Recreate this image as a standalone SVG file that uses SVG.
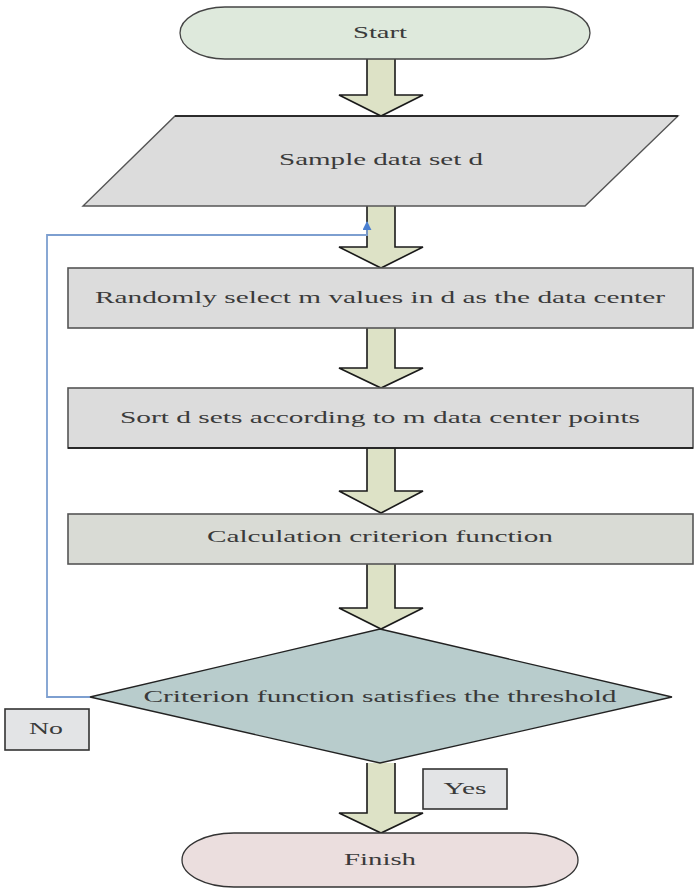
<svg xmlns="http://www.w3.org/2000/svg" width="695" height="890" viewBox="0 0 695 890">
<style>
text{font-family:"Liberation Serif","Times New Roman",serif;font-size:16px;fill:#3a3a3a;text-anchor:middle}
.arr{fill:#dde2c6;stroke:#1a1a1a;stroke-width:1.6;stroke-linejoin:miter}
.box{fill:#dcdcdc;stroke:#555;stroke-width:1.6}
.lbl{fill:#e3e4e6;stroke:#333;stroke-width:1.6}
</style>
<defs>
<marker id="bh" viewBox="0 0 10 10" refX="9" refY="5" markerWidth="9" markerHeight="9" markerUnits="userSpaceOnUse" orient="auto">
<path d="M0,0 L10,5 L0,10 z" fill="#4a7fd0"/>
</marker>
</defs>
<g id="connectors">
<path class="arr" d="M367,59 V95 H339 L381,116 L423,95 H395 V59"/>
<path class="arr" d="M367,206 V247 H339 L381,268 L423,247 H395 V206"/>
<path class="arr" d="M367,328 V368 H339 L381,388 L423,368 H395 V328"/>
<path class="arr" d="M367,448 V491 H339 L381,513 L423,491 H395 V448"/>
<path class="arr" d="M367,564 V608 H339 L381,629 L423,608 H395 V564"/>
<path class="arr" d="M367,763 V813 H339 L381,833 L423,813 H395 V763"/>
<path d="M90,697 H47 V235 H367 V222" fill="none" stroke="#7d9fd0" stroke-width="1.8" marker-end="url(#bh)"/>
</g>
<g id="start">
<rect x="180" y="7" width="410" height="52" rx="45" ry="26" fill="#dee9dc" stroke="#444" stroke-width="1.3"/>
<text x="380" y="38" textLength="54" lengthAdjust="spacingAndGlyphs">Start</text>
</g>
<g id="sample">
<polygon points="175,116 678,116 585,206 83,206" fill="#dcdcdc" stroke="#555" stroke-width="1.4"/>
<line x1="175" y1="116" x2="678" y2="116" stroke="#111" stroke-width="1.6"/>
<text x="381" y="165" textLength="204" lengthAdjust="spacingAndGlyphs">Sample data set d</text>
</g>
<g id="select">
<rect class="box" x="68" y="268" width="625" height="60"/>
<text x="380" y="303" textLength="570" lengthAdjust="spacingAndGlyphs">Randomly select m values in d as the data center</text>
</g>
<g id="sort">
<rect class="box" x="68" y="388" width="625" height="60"/>
<line x1="68" y1="448" x2="693" y2="448" stroke="#111" stroke-width="1.6"/>
<text x="380" y="423" textLength="520" lengthAdjust="spacingAndGlyphs">Sort d sets according to m data center points</text>
</g>
<g id="calc">
<rect class="box" x="68" y="514" width="625" height="50" style="fill:#d9dbd5"/>
<text x="380" y="542" textLength="346" lengthAdjust="spacingAndGlyphs">Calculation criterion function</text>
</g>
<g id="decision">
<polygon points="380,629 672,697 380,763 90,697" fill="#b8cccc" stroke="#222" stroke-width="1.3"/>
<text x="380" y="702" textLength="473" lengthAdjust="spacingAndGlyphs">Criterion function satisfies the threshold</text>
</g>
<g id="no">
<rect class="lbl" x="5" y="709" width="84" height="41"/>
<text x="46" y="734" textLength="34" lengthAdjust="spacingAndGlyphs">No</text>
</g>
<g id="yes">
<rect class="lbl" x="423" y="769" width="84" height="40"/>
<text x="465" y="794" textLength="43" lengthAdjust="spacingAndGlyphs">Yes</text>
</g>
<g id="finish">
<rect x="182" y="833" width="396" height="54" rx="52" ry="27" fill="#ebdede" stroke="#333" stroke-width="1.3"/>
<text x="380" y="865" textLength="72" lengthAdjust="spacingAndGlyphs">Finish</text>
</g>
</svg>
